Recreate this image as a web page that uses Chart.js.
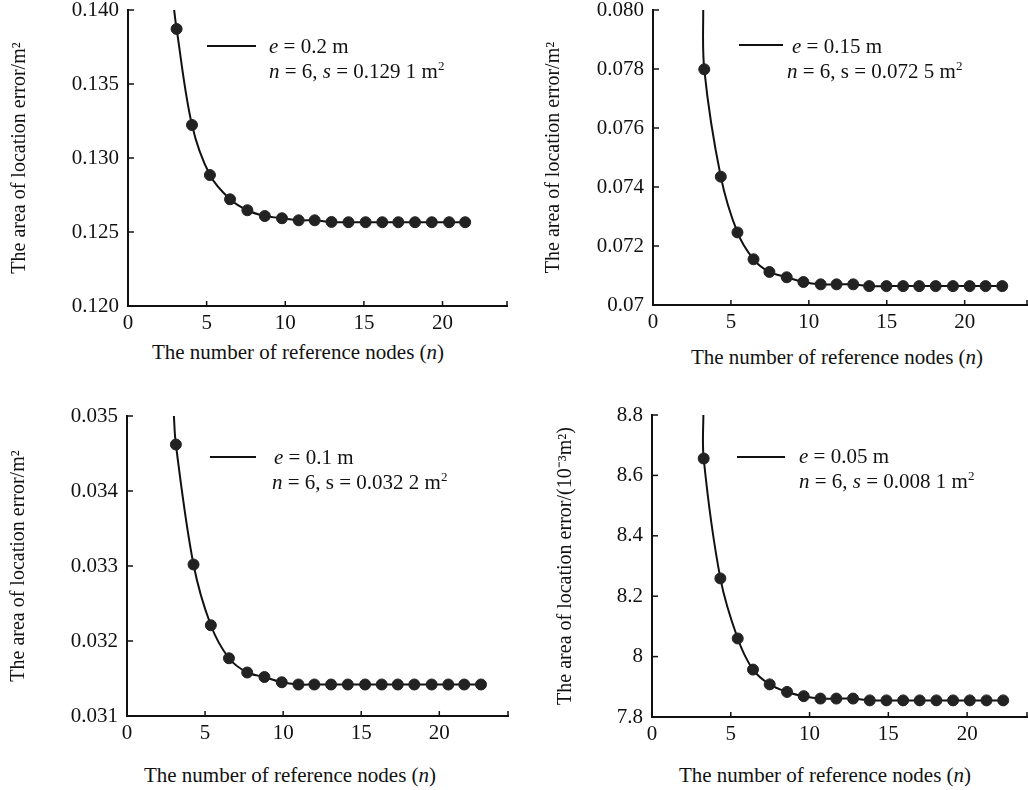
<!DOCTYPE html>
<html>
<head>
<meta charset="utf-8">
<script src="https://cdn.jsdelivr.net/npm/chart.js@4.4.0/dist/chart.umd.min.js"></script>
<style>
  body { margin: 0; width: 1028px; height: 790px; background: #fff; position: relative; overflow: hidden;
         font-family: "Liberation Serif", "Times New Roman", serif; color: #111; }
  canvas { position: absolute; }
  .legend { position: absolute; font-size: 21px; line-height: 25px; white-space: nowrap; }
  .sample { position: absolute; height: 0; border-top: 2px solid #111; }
  .xtitle { position: absolute; font-size: 21px; white-space: nowrap; transform: translate(-50%, -50%); }
  sup { font-size: 0.62em; line-height: 0; vertical-align: 0.6em; }
</style>
</head>
<body>

<canvas id="chart1" width="505" height="350" style="left:8px; top:-14px;"></canvas>
<canvas id="chart2" width="500" height="349" style="left:533px; top:-14px;"></canvas>
<canvas id="chart3" width="507" height="354" style="left:7px; top:392px;"></canvas>
<canvas id="chart4" width="501" height="356" style="left:532px; top:391px;"></canvas>

<!-- legends -->
<div class="sample" style="left:207px; top:45px; width:49px;"></div>
<div class="legend" style="left:269px; top:34px;"><i>e</i> = 0.2 m<br><i>n</i> = 6, <i>s</i> = 0.129 1 m<sup>2</sup></div>

<div class="sample" style="left:739px; top:44px; width:44px;"></div>
<div class="legend" style="left:787px; top:34px;"><span style="padding-left:5px"><i>e</i> = 0.15 m</span><br><i>n</i> = 6, s = 0.072 5 m<sup>2</sup></div>

<div class="sample" style="left:210px; top:456px; width:46px;"></div>
<div class="legend" style="left:272px; top:445px;"><span style="padding-left:2px"><i>e</i> = 0.1 m</span><br><i>n</i> = 6, s = 0.032 2 m<sup>2</sup></div>

<div class="sample" style="left:737px; top:456px; width:48px;"></div>
<div class="legend" style="left:799px; top:444px;"><i>e</i> = 0.05 m<br><i>n</i> = 6, <i>s</i> = 0.008 1 m<sup>2</sup></div>

<!-- x axis titles -->
<div class="xtitle" style="left:298px; top:352px;">The number of reference nodes (<i>n</i>)</div>
<div class="xtitle" style="left:837px; top:357px;">The number of reference nodes (<i>n</i>)</div>
<div class="xtitle" style="left:290px; top:775px;">The number of reference nodes (<i>n</i>)</div>
<div class="xtitle" style="left:825px; top:775px;">The number of reference nodes (<i>n</i>)</div>

<script>
// Shared x ticks
const xTicks = [0, 5, 10, 15, 20];

// Panel 1: e = 0.2 m
const nodes1 = [3.09, 4.07, 5.21, 6.49, 7.59, 8.70, 9.79, 10.85, 11.87, 12.94, 14.02, 15.11, 16.17, 17.19, 18.25, 19.32, 20.42, 21.44];
const area1 = [0.13872, 0.13223, 0.12885, 0.12721, 0.12647, 0.12608, 0.12593, 0.12579, 0.12579, 0.12568, 0.12566, 0.12566, 0.12566, 0.12566, 0.12566, 0.12566, 0.12566, 0.12566];
const lead1 = [2.9, 0.1403];
const yTicks1 = ['0.120', '0.125', '0.130', '0.135', '0.140'];

// Panel 2: e = 0.15 m
const nodes2 = [3.29, 4.35, 5.42, 6.45, 7.47, 8.58, 9.65, 10.76, 11.78, 12.85, 13.87, 14.98, 16.05, 17.08, 18.14, 19.25, 20.32, 21.34, 22.41];
const area2 = [0.07799, 0.07435, 0.07246, 0.07155, 0.07112, 0.07094, 0.07078, 0.07070, 0.07070, 0.07070, 0.07064, 0.07064, 0.07064, 0.07064, 0.07064, 0.07064, 0.07064, 0.07064, 0.07064];
const lead2 = [3.22, 0.0802];
const yTicks2 = ['0.07', '0.072', '0.074', '0.076', '0.078', '0.080'];

// Panel 3: e = 0.1 m
const nodes3 = [3.13, 4.26, 5.37, 6.53, 7.70, 8.80, 9.91, 10.98, 12.00, 13.07, 14.14, 15.25, 16.31, 17.34, 18.40, 19.51, 20.58, 21.60, 22.67];
const area3 = [0.03462, 0.03302, 0.03221, 0.03177, 0.03158, 0.03152, 0.03145, 0.03142, 0.03142, 0.03142, 0.03142, 0.03142, 0.03142, 0.03142, 0.03142, 0.03142, 0.03142, 0.03142, 0.03142];
const lead3 = [2.99, 0.03505];
const yTicks3 = ['0.031', '0.032', '0.033', '0.034', '0.035'];

// Panel 4: e = 0.05 m (in 10^-3 m^2)
const nodes4 = [3.28, 4.34, 5.44, 6.41, 7.47, 8.57, 9.63, 10.69, 11.70, 12.76, 13.82, 14.88, 15.94, 16.99, 18.05, 19.11, 20.17, 21.23, 22.29];
const area4 = [8.656, 8.259, 8.060, 7.957, 7.908, 7.883, 7.869, 7.861, 7.861, 7.861, 7.855, 7.855, 7.855, 7.855, 7.855, 7.855, 7.855, 7.855, 7.855];
const lead4 = [3.26, 8.81];
const yTicks4 = ['7.8', '8', '8.2', '8.4', '8.6', '8.8'];

const FONT = '"Liberation Serif", "Times New Roman", serif';
const INK = '#111';

// draws the small tick marks pointing into the plot area
const inwardTicks = {
    id: 'inwardTicks',
    afterDraw(chart) {
        const { ctx, chartArea, scales } = chart;
        ctx.save();
        ctx.strokeStyle = INK;
        ctx.lineWidth = 1.5;
        scales.x.ticks.forEach(t => {
            const px = scales.x.getPixelForValue(t.value);
            ctx.beginPath();
            ctx.moveTo(px, chartArea.bottom);
            ctx.lineTo(px, chartArea.bottom - 5);
            ctx.stroke();
        });
        scales.y.ticks.forEach(t => {
            const py = scales.y.getPixelForValue(t.value);
            ctx.beginPath();
            ctx.moveTo(chartArea.left, py);
            ctx.lineTo(chartArea.left + 6, py);
            ctx.stroke();
        });
        ctx.restore();
    }
};

function makePanel(id, nodes, area, lead, yTicks, xMax, yTitle, titlePad) {
    const points = [{ x: lead[0], y: lead[1] }].concat(nodes.map((x, i) => ({ x: x, y: area[i] })));
    const radii = points.map((p, i) => i === 0 ? 0 : 5.5);
    const yVals = yTicks.map(s => parseFloat(s));

    new Chart(document.getElementById(id), {
        type: 'line',
        data: {
            datasets: [{
                data: points,
                borderColor: INK,
                borderWidth: 2,
                tension: 0.35,
                pointRadius: radii,
                pointBackgroundColor: '#222',
                pointBorderColor: '#222',
                pointBorderWidth: 1,
                fill: false
            }]
        },
        options: {
            responsive: false,
            animation: false,
            devicePixelRatio: 1,
            // top padding has to beat the y labels' own overflow (half label + tick padding)
            layout: { autoPadding: false, padding: { left: 0, top: 24, right: 6, bottom: 0 } },
            plugins: { legend: { display: false }, tooltip: { enabled: false } },
            scales: {
                x: {
                    type: 'linear',
                    min: 0,
                    max: xMax,
                    grid: { display: false, drawTicks: false },
                    border: { display: true, color: INK, width: 2 },
                    afterBuildTicks: s => { s.ticks = xTicks.concat([xMax]).map(v => ({ value: v })); },
                    afterFit: s => { s.height = 30; },
                    ticks: {
                        padding: 5,
                        color: INK,
                        maxRotation: 0,
                        autoSkip: false,
                        font: { family: FONT, size: 21 },
                        callback: v => xTicks.includes(v) ? String(v) : ''
                    }
                },
                y: {
                    type: 'linear',
                    min: yVals[0],
                    max: yVals[yVals.length - 1],
                    grid: { display: false, drawTicks: false },
                    border: { display: true, color: INK, width: 2 },
                    afterBuildTicks: s => { s.ticks = yVals.map(v => ({ value: v })); },
                    afterFit: s => { s.width = 120; },
                    ticks: {
                        padding: 9,
                        color: INK,
                        autoSkip: false,
                        font: { family: FONT, size: 21 },
                        callback: v => {
                            const i = yVals.findIndex(t => Math.abs(t - v) < 1e-9);
                            return i >= 0 ? yTicks[i] : '';
                        }
                    },
                    title: {
                        display: true,
                        text: yTitle,
                        color: INK,
                        font: { family: FONT, size: 20 },
                        padding: { top: titlePad, bottom: 0 }
                    }
                }
            }
        },
        plugins: [inwardTicks]
    });
}

document.addEventListener('DOMContentLoaded', () => {
    makePanel('chart1', nodes1, area1, lead1, yTicks1, 24.1, 'The area of location error/m²', 0);
    makePanel('chart2', nodes2, area2, lead2, yTicks2, 24, 'The area of location error/m²', 9);
    makePanel('chart3', nodes3, area3, lead3, yTicks3, 24.4, 'The area of location error/m²', 0);
    makePanel('chart4', nodes4, area4, lead4, yTicks4, 23.8, 'The area of location error/(10⁻³m²)', 22);
});
</script>
</body>
</html>
